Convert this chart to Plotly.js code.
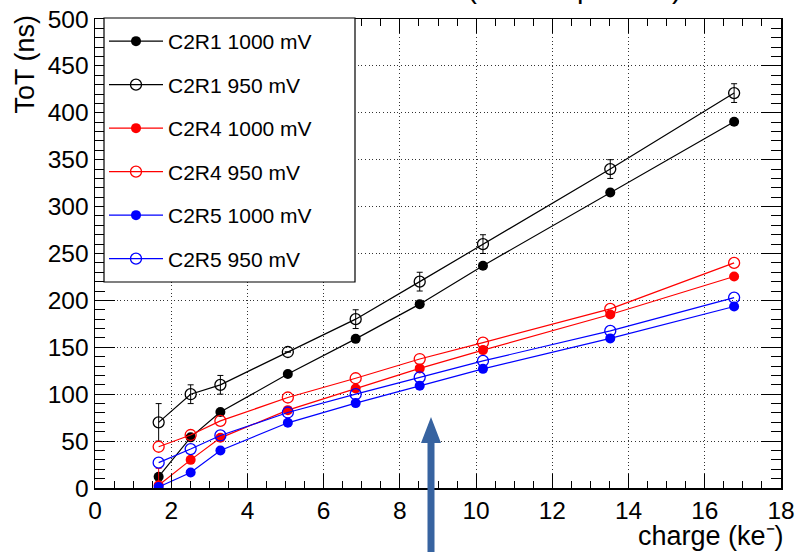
<!DOCTYPE html>
<html>
<head>
<meta charset="utf-8">
<script src="https://cdn.plot.ly/plotly-3.0.1.min.js"></script>
<style>html,body{margin:0;padding:0;background:#fff;}#chart{width:798px;height:552px;}</style>
</head>
<body>
<div id="chart"></div>
<script>
// ---- data ----
const charge = [1.67, 2.51, 3.29, 5.06, 6.84, 8.52, 10.18, 13.52, 16.77];
const c2r1_1000 = [12, 54, 81, 121.5, 159, 196, 237, 315, 390.5];
const c2r1_950 = [70, 100, 110, 145, 180, 220, 260, 340, 421];
const c2r1_950_err = [20, 10, 10, 0, 10, 10, 10, 10, 10];
const c2r4_1000 = [3, 30, 53.5, 83, 106, 127.5, 147, 185, 225.5];
const c2r4_1000_err = [18, 0, 0, 0, 0, 0, 0, 0, 0];
const c2r4_950 = [44, 56.5, 71.5, 96.5, 117, 137.5, 155, 191, 240];
const c2r5_1000 = [1, 16.5, 40, 69.5, 90.5, 109, 127, 159.5, 193.5];
const c2r5_950 = [27, 41.5, 56, 80.5, 100, 118, 135.5, 167.5, 203];
const seriesNames = ["C2R1 1000 mV", "C2R1 950 mV", "C2R4 1000 mV", "C2R4 950 mV", "C2R5 1000 mV", "C2R5 950 mV"];
const xTickVals = [0, 2, 4, 6, 8, 10, 12, 14, 16, 18];
const yTickVals = [0, 50, 100, 150, 200, 250, 300, 350, 400, 450, 500];

const FONT = "Liberation Sans, Arial, Helvetica, sans-serif";

function tr(name, y, color, filled, err) {
  const t = {
    type: "scatter", mode: "lines+markers", name: name, x: charge, y: y,
    legendgroup: name,
    line: {color: color, width: 1.2},
    marker: filled ? {symbol: "circle", size: 10, color: color}
                   : {symbol: "circle-open", size: 11, color: color, line: {width: 1.3, color: color}},
    hoverinfo: "x+y"
  };
  if (err) t.error_y = {type: "data", array: err, visible: true, color: color, thickness: 1, width: 3};
  return t;
}

const data = [
  tr(seriesNames[0], c2r1_1000, "#000000", true),
  tr(seriesNames[1], c2r1_950, "#000000", false, c2r1_950_err),
  tr(seriesNames[2], c2r4_1000, "#ff0000", true, c2r4_1000_err),
  tr(seriesNames[3], c2r4_950, "#ff0000", false),
  tr(seriesNames[4], c2r5_1000, "#0000ff", true),
  tr(seriesNames[5], c2r5_950, "#0000ff", false)
];

const W = 798, H = 552, L = 95, R = 17, T = 19, B = 64;
const pw = W - L - R, ph = H - T - B;
const px = v => (v - L) / pw;           // page px -> paper x
const py = v => (H - B - v) / ph;       // page px -> paper y

const axisCommon = {
  showline: true, linecolor: "#000", linewidth: 1.5, mirror: "allticks",
  ticks: "inside", tickcolor: "#000", tickwidth: 1,
  showgrid: true, gridcolor: "#333", gridwidth: 1, griddash: "1px,2.6px",
  zeroline: false, tickfont: {family: FONT, size: 24.5, color: "#000"},
  fixedrange: true
};

const layout = {
  width: W, height: H,
  margin: {l: L, r: R, t: T, b: B, pad: 0},
  paper_bgcolor: "#fff", plot_bgcolor: "#fff",
  showlegend: true,
  xaxis: Object.assign({}, axisCommon, {
    range: [0, 18], tickmode: "array", tickvals: xTickVals, ticklen: 14,
    minor: {dtick: 0.5, ticks: "inside", ticklen: 7, tickcolor: "#000", tickwidth: 1, showgrid: false}
  }),
  yaxis: Object.assign({}, axisCommon, {
    range: [0, 500], tickmode: "array", tickvals: yTickVals, ticklen: 20,
    minor: {dtick: 10, ticks: "inside", ticklen: 10, tickcolor: "#000", tickwidth: 1, showgrid: false}
  }),
  legend: {
    x: px(104), y: py(21), xanchor: "left", yanchor: "top",
    bgcolor: "rgba(0,0,0,0)", borderwidth: 0,
    font: {family: FONT, size: 21, color: "#000"},
    tracegroupgap: 13.2, itemwidth: 54, traceorder: "grouped"
  },
  shapes: [
    {type: "rect", xref: "paper", yref: "paper", x0: px(104), x1: px(355), y0: py(282), y1: py(18),
     fillcolor: "#fff", line: {color: "#000", width: 1.2}, layer: "above"},
    {type: "path", xref: "paper", yref: "paper", layer: "above",
     path: "M " + px(427.5) + " " + py(560) + " L " + px(427.5) + " " + py(443) +
           " L " + px(421) + " " + py(443) + " L " + px(431) + " " + py(417) +
           " L " + px(441) + " " + py(443) + " L " + px(434.5) + " " + py(443) +
           " L " + px(434.5) + " " + py(560) + " Z",
     fillcolor: "#3763a0", line: {width: 0}}
  ],
  annotations: [
    {xref: "paper", yref: "paper", x: px(25), y: py(13), xanchor: "center", yanchor: "top",
     text: "ToT (ns)", textangle: -90, showarrow: false,
     font: {family: FONT, size: 27, color: "#000"}},
    {xref: "paper", yref: "paper", x: px(786), y: py(535.5), xanchor: "right", yanchor: "middle",
     text: "charge (ke\u207B)", showarrow: false,
     font: {family: FONT, size: 27, color: "#000"}},
    {xref: "paper", yref: "paper", x: px(684), y: py(6), xanchor: "right", yanchor: "bottom",
     text: "ToT curves (C2 comparison)", showarrow: false,
     font: {family: FONT, size: 29, color: "#000"}}
  ]
};

Plotly.newPlot("chart", data, layout, {displayModeBar: false, staticPlot: true});
</script>
</body>
</html>
